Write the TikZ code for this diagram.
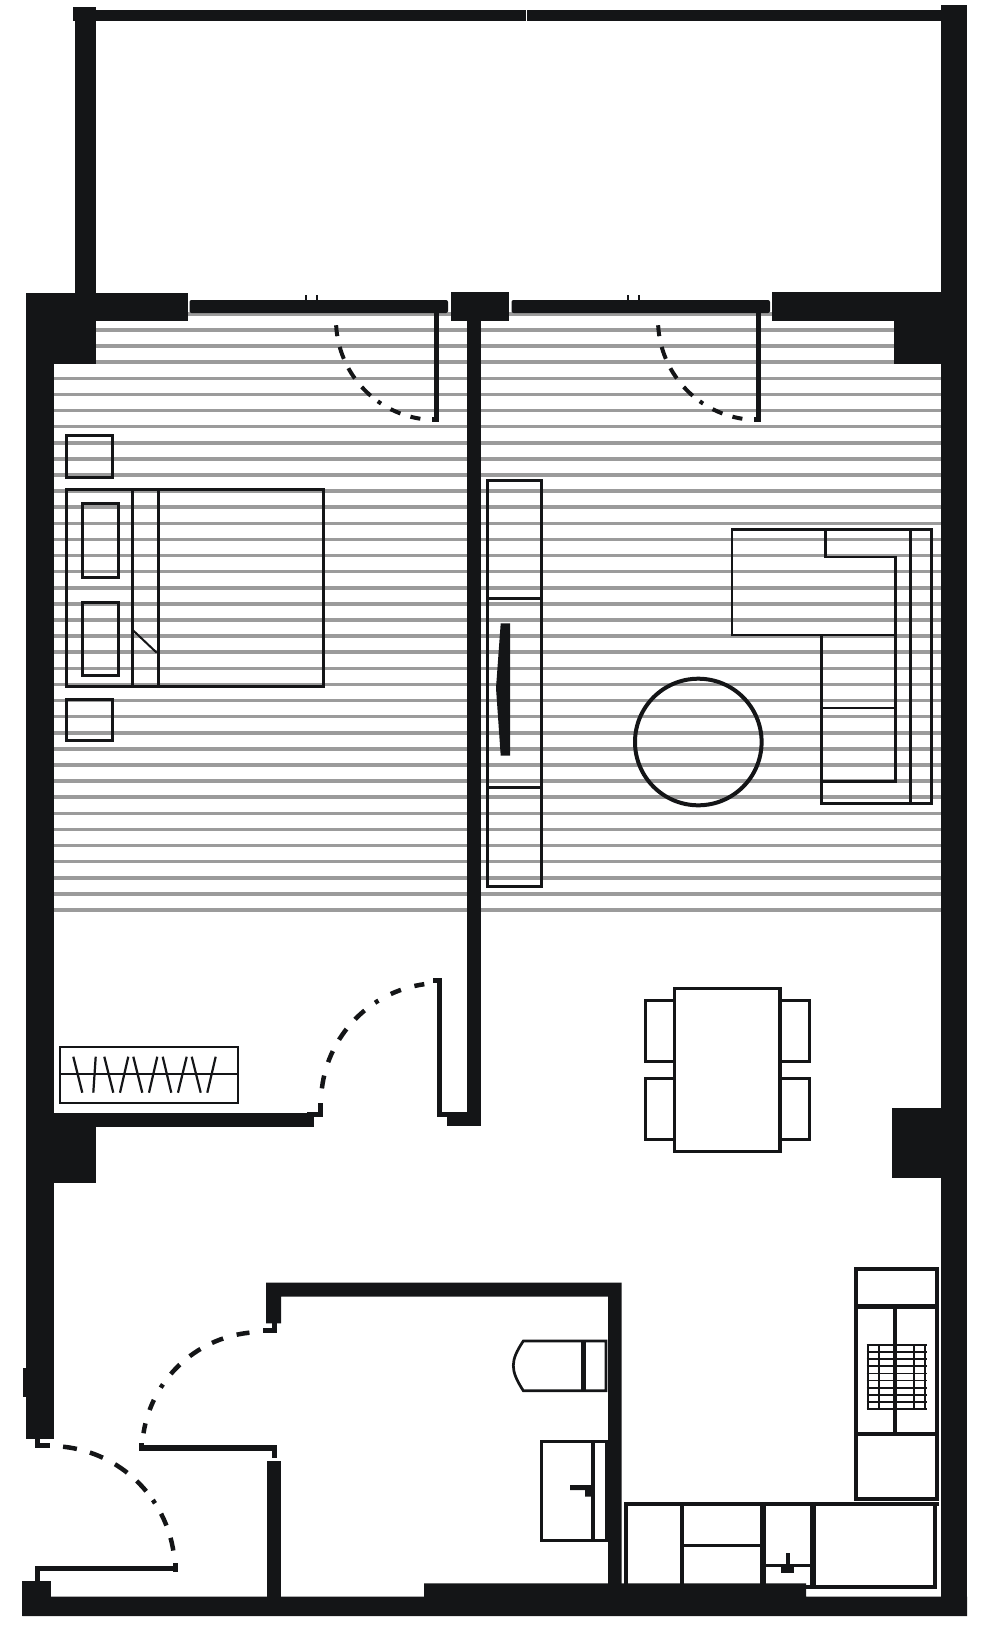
\documentclass[tikz,border=0pt]{standalone}
\usepackage{xcolor}
\usepackage{tikz}
\usetikzlibrary{calc}
\definecolor{wallink}{HTML}{141517}
\definecolor{floorgrey}{HTML}{9B9B9B}
\tikzset{
  wall/.style={fill=wallink},
  plank/.style={draw=floorgrey,line width=3.5pt},
  furn/.style={draw=wallink,line width=3pt},
  leaf/.style={draw=wallink,line width=4.5pt},
  swingA/.style={draw=wallink,line width=4pt,dash pattern=on 11pt off 11pt on 12.7pt off 10.4pt on 12pt off 11pt on 12.6pt off 9pt on 4pt off 11pt on 10.8pt off 10.5pt on 11pt off 30pt},
  swingB/.style={draw=wallink,line width=4.5pt,dash pattern=on 13pt off 14pt on 12pt off 13pt on 13pt off 13pt on 13pt off 13pt on 4pt off 14pt on 11pt off 14pt on 11pt off 30pt},
  swingC/.style={draw=wallink,line width=4.5pt,dash pattern=on 14pt off 13.5pt on 14pt off 13.7pt on 15pt off 12.5pt on 14pt off 11pt on 4pt off 12pt on 13pt off 13pt on 13pt off 30pt}
}
\begin{document}
\begin{tikzpicture}[x=1pt,y=-1pt]
    \useasboundingbox (0,0) rectangle (1000,1627);
    \foreach \k in {-1,...,36}
        \draw[plank] (96,{330+16.11*\k}) -- (894,{330+16.11*\k});
    \foreach \k in {3,...,36}
        \draw[plank] (54,{330+16.11*\k}) -- (941,{330+16.11*\k});
    % balcony
    \fill[wall] (96,10) rectangle (941,21);
    \draw[white,line width=1pt] (526.5,10) -- (526.5,21);
    \fill[wall] (73,7) rectangle (96,21);
    \fill[wall] (75,7) rectangle (96,300);
    \fill[wall] (941,5) rectangle (967,1616);
    % piers and outer walls
    \fill[wall] (27,293) rectangle (188,321);
    \fill[wall] (27,293) rectangle (96,364);
    \fill[wall] (26,293) rectangle (54,1439);
    \fill[wall] (22.7,1368) rectangle (26,1397);
    \fill[wall] (451,292) rectangle (509,321);
    \fill[wall] (772,292) rectangle (967,321);
    \fill[wall] (894,292) rectangle (967,364);
    \fill[wall] (467,292) rectangle (481,1126);
    \fill[wall] (891.7,1107.7) rectangle (967,1178.3);
    \fill[wall] (54,1112.7) rectangle (314.3,1126.7);
    \fill[wall] (54,1112.7) rectangle (95.7,1183.3);
    \fill[wall] (446.7,1111.7) rectangle (481,1126);
    \fill[wall] (22.3,1580.7) rectangle (51,1616);
    \fill[wall] (22.3,1596.7) -- (424,1596.7) -- (424,1583.3) -- (806,1583.3) -- (806,1596.7) -- (967,1596.7) -- (967,1616) -- (22.3,1616) -- cycle;
    % bathroom walls
    \fill[wall] (266,1282.7) -- (621.7,1282.7) -- (621.7,1590) -- (608,1590) -- (608,1296.7) -- (281,1296.7) -- (281,1323.3) -- (266,1323.3) -- cycle;
    \fill[wall] (266.7,1460.7) rectangle (281,1600);
    % balcony doors
    \foreach \dx in {0,322}{
        \begin{scope}[shift={(\dx,0)}]
            \coordinate (hinge) at (436,320);
            \fill[wall,rounded corners=2pt] (189.5,300) rectangle (448,313);
            \draw[wallink,line width=1.2pt] (306,295) -- (306,300) (317,295) -- (317,300);
            \draw[leaf] (436.5,313) -- (436.5,422);
            \fill[wall] (432,417) rectangle (439,422);
            \draw[swingA] ([shift=(183:100pt)]hinge) arc[start angle=183,end angle=261,radius=100pt];
        \end{scope}
    }
    % bedroom door
    \coordinate (hingeB) at (441,1103);
    \fill[wall] (306.7,1111.7) rectangle (323.3,1116.7);
    \fill[wall] (318,1102.7) rectangle (323.3,1116.7);
    \fill[wall] (436.7,978.3) rectangle (442.3,1116.7);
    \fill[wall] (433,978.3) rectangle (442.3,983);
    \fill[wall] (436.7,1111.7) rectangle (448,1116.7);
    \draw[swingB] ([shift=(173:120pt)]hingeB) arc[start angle=173,end angle=98,radius=120pt];
    % bathroom door
    \coordinate (hingeW) at (262,1452);
    \fill[wall] (263.3,1328.3) rectangle (277.3,1332.7);
    \fill[wall] (271.7,1323) rectangle (277.3,1332.7);
    \fill[wall] (139.3,1444.7) rectangle (277.3,1451);
    \fill[wall] (139.3,1442.7) rectangle (144.3,1451);
    \fill[wall] (271.7,1446) rectangle (277.3,1458);
    \draw[swingB] ([shift=(96:120pt)]hingeW) arc[start angle=96,end angle=171,radius=120pt];
    % entry door
    \coordinate (hingeE) at (50,1571);
    \fill[wall] (35,1438) rectangle (40,1448);
    \fill[wall] (35,1443) rectangle (50,1448);
    \draw[swingC] ([shift=(84:125pt)]hingeE) arc[start angle=84,end angle=8,radius=125pt];
    \fill[wall] (35,1565.7) rectangle (178.3,1571);
    \fill[wall] (173.3,1562.7) rectangle (178.3,1571.7);
    \fill[wall] (35,1565.7) rectangle (40,1580.7);
    % bed
    \draw[furn] (66.5,435.5) rectangle (112,477.5);
    \draw[furn] (66.5,699) rectangle (112,740.5);
    \draw[furn] (66.5,489) rectangle (323,686);
    \draw[furn] (132.7,489) -- (132.7,686);
    \draw[furn,line width=3.5pt] (158.3,489) -- (158.3,686);
    \draw[furn] (82.5,503) rectangle (118.5,577);
    \draw[furn] (82.5,602) rectangle (118.5,675);
    \draw[furn,line width=2pt] (132.7,630) -- (156.7,652.7);
    % tv unit
    \draw[furn] (487.5,480) rectangle (541,886);
    \draw[furn] (487.5,598.3) -- (541,598.3);
    \draw[furn] (487.5,787.7) -- (541,787.7);
    \fill[wall] (500.7,623.3) -- (510,623.3) -- (510,755.7) -- (500.7,755.7) -- (496,688) -- cycle;
    % sofa
    \draw[furn,line width=2.7pt] (732,529.3) -- (732,635) -- (895.7,635) -- (895.7,557) -- (825.7,557) -- (825.7,529.3) -- cycle;
    \draw[furn,line width=2.7pt] (825.7,529.3) -- (931.7,529.3) -- (931.7,803.3) -- (821.7,803.3) -- (821.7,635);
    \draw[furn,line width=2.7pt] (910.7,529.3) -- (910.7,803.3);
    \draw[furn,line width=2.7pt] (895.7,635) -- (895.7,781.7) -- (821.7,781.7);
    \draw[furn,line width=2.7pt] (821.7,708) -- (895.7,708);
    \draw[furn,line width=4pt] (698.3,742) circle (63.3pt);
    % radiator
    \draw[furn,line width=2.2pt] (60,1047) rectangle (238,1102.7);
    \draw[furn,line width=2.2pt] (60,1074.3) -- (238,1074.3);
    \foreach \xa/\xb in {73.3/82.3,95.7/93.3,104.3/113.3,128.3/120,133.3/142.3,157.3/149,162.7/171.3,186.7/178,191.7/200.7,215.7/207.3}
        \draw[furn,line width=2.2pt] (\xa,1056.7) -- (\xb,1092.7);
    % dining
    \draw[furn,line width=3.5pt] (674.5,988.5) rectangle (780,1151.5);
    \draw[furn] (673,1000.5) -- (645,1000.5) -- (645,1061) -- (673,1061);
    \draw[furn] (673,1078) -- (645,1078) -- (645,1139.5) -- (673,1139.5);
    \draw[furn] (781,1000.5) -- (809.5,1000.5) -- (809.5,1061) -- (781,1061);
    \draw[furn] (781,1078) -- (809.5,1078) -- (809.5,1139.5) -- (781,1139.5);
    % toilet and basin
    \draw[furn,line width=2.7pt] (523.3,1341) -- (606,1341) -- (606,1390.7) -- (523.3,1390.7) .. controls (510,1370) and (510,1361) .. (523.3,1341) -- cycle;
    \draw[furn,line width=4.5pt] (583.3,1341) -- (583.3,1390.7);
    \draw[furn] (541.5,1441.5) rectangle (606,1540.5);
    \draw[furn,line width=4pt] (593.3,1441.5) -- (593.3,1540.5);
    \fill[wall] (570,1485) -- (592,1485) -- (592,1496.7) -- (585,1496.7) -- (585,1490) -- (570,1490) -- cycle;
    % kitchen
    \draw[furn,line width=4pt] (855.7,1269) -- (937,1269) -- (937,1498.5) -- (855.7,1498.5) -- cycle;
    \draw[furn,line width=5.5pt] (855.7,1306.3) -- (937,1306.3);
    \draw[furn,line width=4pt] (855.7,1433.7) -- (937,1433.7);
    \foreach \k in {0,...,9}
        \draw[furn,line width=1.8pt] (866.7,{1345+7.1*\k}) -- (927.3,{1345+7.1*\k});
    \foreach \x in {868,879,914,925}
        \draw[furn,line width=1.5pt] (\x,1345) -- (\x,1409);
    \draw[furn,line width=4pt] (895,1306) -- (895,1433);
    \draw[furn,line width=4pt] (626.3,1584) -- (626.3,1503.7) -- (939.3,1503.7);
    \draw[furn,line width=4pt] (934.7,1503.7) -- (934.7,1586.6) -- (806,1586.6);
    \draw[furn,line width=4pt] (682,1503.7) -- (682,1584);
    \draw[furn,line width=5.5pt] (762.8,1503.7) -- (762.8,1584);
    \draw[furn,line width=5.5pt] (812.8,1503.7) -- (812.8,1586);
    \draw[furn] (682,1545) -- (762,1545);
    \draw[furn] (762,1565) -- (813,1565);
    \fill[wall] (785.7,1553) rectangle (790,1566);
    \fill[wall] (781,1566.7) rectangle (794,1573.3);
\end{tikzpicture}
\end{document}
